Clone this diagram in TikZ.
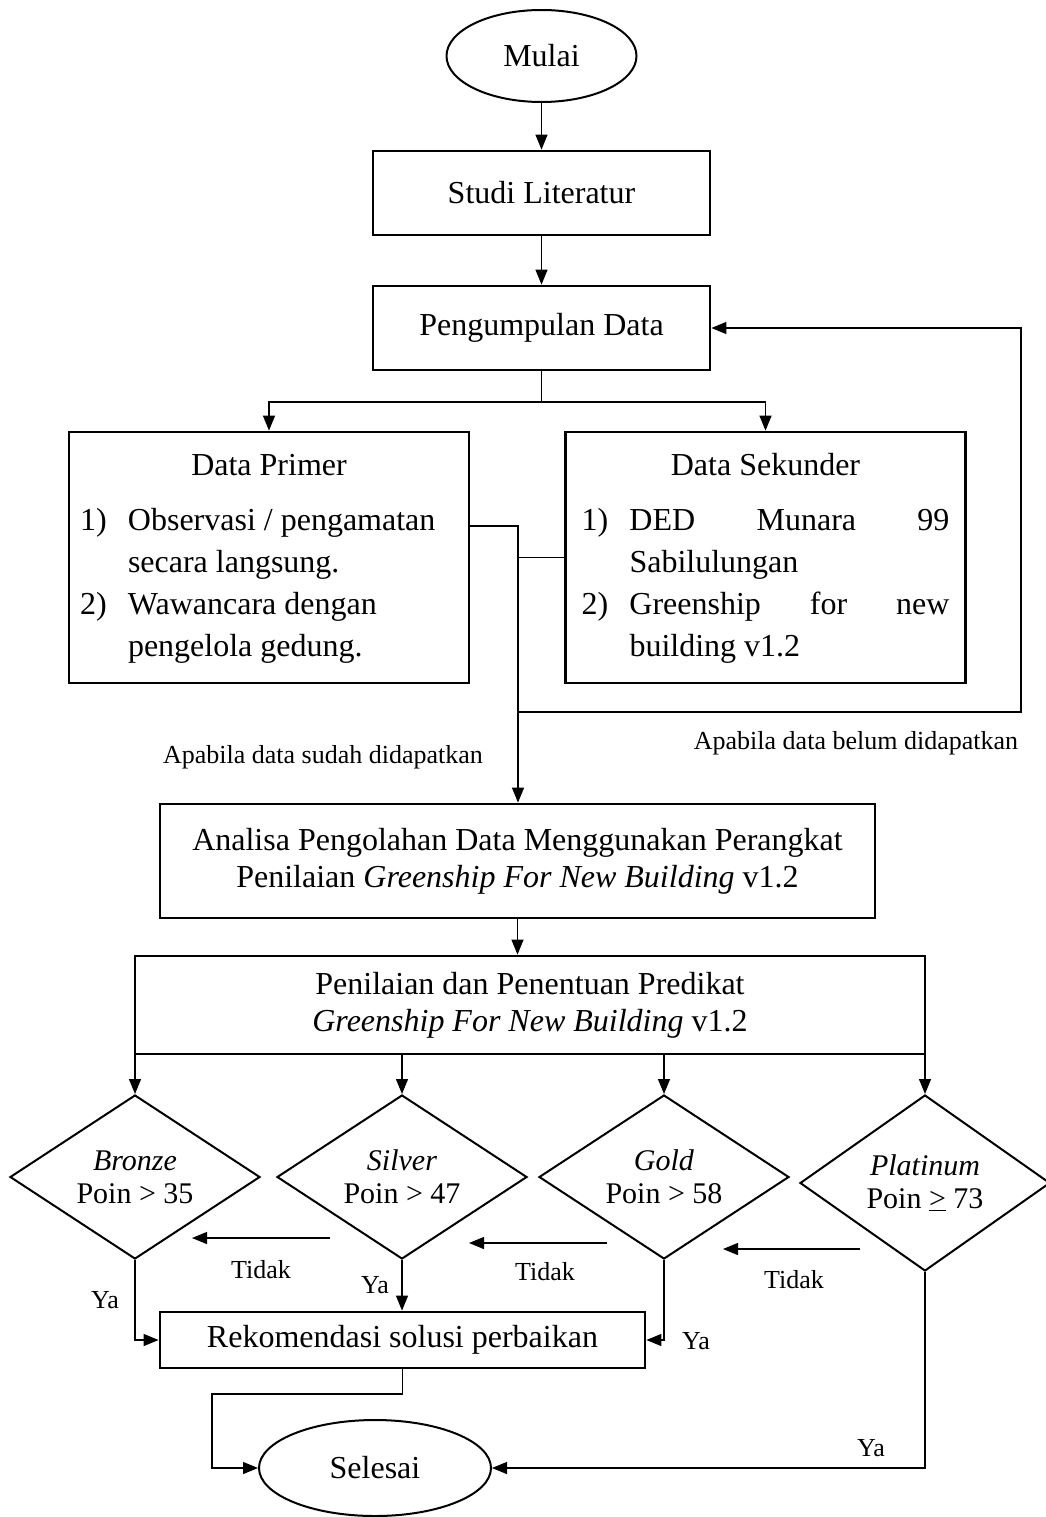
\documentclass[tikz,border=0pt]{standalone}
\usepackage{fontspec}
\setmainfont{Liberation Serif}
\usetikzlibrary{arrows.meta,shapes.geometric}

\begin{document}
\begin{tikzpicture}[
  x=1pt,y=-1pt,
  >={Triangle[length=15pt,width=12pt]},
  every node/.style={font=\fontsize{32}{37}\selectfont},
  term/.style={ellipse,draw,line width=2pt,inner sep=0pt},
  proc/.style={rectangle,draw,line width=2.8pt,align=center,inner sep=0pt},
  listbox/.style={proc,minimum width=400pt,minimum height=251pt,
    font=\fontsize{32}{42}\selectfont},
  cek/.style={diamond,draw,line width=2pt,align=center,inner sep=0pt,
    shape aspect=1.5,minimum width=250pt,minimum height=164pt,
    font=\fontsize{30}{33}\selectfont},
  note/.style={font=\fontsize{26}{30}\selectfont},
  flow/.style={->,line width=1.3pt},
  link/.style={line width=1.3pt}
]
  \useasboundingbox (0,0) rectangle (1046,1517);

  % start and collection
  \node[term,minimum width=190pt,minimum height=92pt] (mulai) at (541.5,56) {Mulai};
  \node[proc,minimum width=337pt,minimum height=84pt] (studi) at (541.5,193) {Studi Literatur};
  \node[proc,minimum width=337pt,minimum height=84pt] (kumpul) at (541.5,328) {Pengumpulan Data};

  % data boxes
  \node[listbox] (primer) at (269,557.5) {%
    \begin{tabular}{@{}p{48pt}@{}p{330pt}@{}}
      \multicolumn{2}{c}{Data Primer}\\[13pt]
      1) & Observasi / pengamatan\\
         & secara langsung.\\
      2) & Wawancara dengan\\
         & pengelola gedung.
    \end{tabular}};
  \node[listbox] (sekunder) at (765.5,557.5) {%
    \begin{tabular}{@{}p{48pt}@{}p{320pt}@{}}
      \multicolumn{2}{c}{Data Sekunder}\\[13pt]
      1) & DED\hfill Munara\hfill 99\\
         & Sabilulungan\\
      2) & Greenship\hfill for\hfill new\\
         & building v1.2
    \end{tabular}};

  \node[proc,minimum width=715pt,minimum height=114pt] (analisa) at (517.5,861)
    {Analisa Pengolahan Data Menggunakan Perangkat\\
     Penilaian \textit{Greenship For New Building} v1.2};
  \node[proc,minimum width=790pt,minimum height=98pt] (predikat) at (530,1005)
    {Penilaian dan Penentuan Predikat\\
     \textit{Greenship For New Building} v1.2};

  % predicate checks
  \node[cek] (bronze) at (135,1177) {\textit{Bronze}\\Poin > 35};
  \node[cek] (silver) at (402,1177) {\textit{Silver}\\Poin > 47};
  \node[cek] (gold) at (664,1177) {\textit{Gold}\\Poin > 58};
  \node[cek,minimum height=176pt] (platinum) at (925,1183) {\textit{Platinum}\\Poin \underline{>} 73};

  \node[proc,minimum width=485pt,minimum height=56pt] (rekom) at (402.5,1340) {Rekomendasi solusi perbaikan};
  \node[term,minimum width=232pt,minimum height=96pt] (selesai) at (375,1468) {Selesai};

  % labels
  \node[note] (sudah) at (323,757) {Apabila data sudah didapatkan};
  \node[note] (belum) at (856,743) {Apabila data belum didapatkan};
  \node[note] (tidak1) at (261,1270) {Tidak};
  \node[note] (tidak2) at (545,1272) {Tidak};
  \node[note] (tidak3) at (794,1280) {Tidak};
  \node[note] (ya1) at (105,1300) {Ya};
  \node[note] (ya2) at (375,1285) {Ya};
  \node[note] (ya3) at (696,1341) {Ya};
  \node[note] (ya4) at (871,1448) {Ya};

  \coordinate (bagi) at (541.5,402);
  \coordinate (gabung) at (518,557.5);
  \coordinate (ulang) at (518,712);
  \coordinate (kanan) at (1021,712);
  \coordinate (belok) at (212,1394);
  \coordinate (t1a) at (330,1238);
  \coordinate (t1b) at (192,1238);
  \coordinate (t2a) at (607,1243);
  \coordinate (t2b) at (469,1243);
  \coordinate (t3a) at (860,1249);
  \coordinate (t3b) at (723,1249);

  % connectors
  \draw[flow] (mulai) -- (studi);
  \draw[flow] (studi) -- (kumpul);
  \draw[link] (kumpul) -- (bagi);
  \draw[flow] (bagi) -| (primer);
  \draw[flow] (bagi) -| (sekunder);
  \draw[link] ([yshift=31.5pt]primer.east) -| (gabung);
  \draw[link] (sekunder.west) -- (gabung);
  \draw[flow] (gabung) -- (gabung |- analisa.north);
  \draw[flow] (ulang) -- (kanan) |- (kumpul.east);
  \draw[flow] (analisa.south) -- (analisa.south |- predikat.north);
  \draw[flow] (predikat.south -| bronze) -- (bronze);
  \draw[flow] (predikat.south -| silver) -- (silver);
  \draw[flow] (predikat.south -| gold) -- (gold);
  \draw[flow] (predikat.south -| platinum) -- (platinum);
  \draw[flow] (t1a) -- (t1b);
  \draw[flow] (t2a) -- (t2b);
  \draw[flow] (t3a) -- (t3b);
  \draw[flow] (bronze.south) |- (rekom.west);
  \draw[flow] (silver.south) -- (silver.south |- rekom.north);
  \draw[flow] (gold.south) |- (rekom.east);
  \draw[flow] (platinum.south) |- (selesai.east);
  \draw[flow] (rekom.south) |- (belok) |- (selesai.west);
\end{tikzpicture}
\end{document}
